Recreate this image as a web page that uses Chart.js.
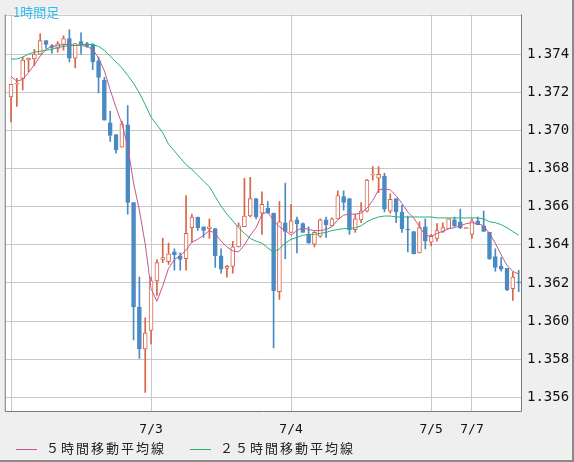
<!DOCTYPE html>
<html lang="ja">
<head>
<meta charset="UTF-8">
<title>1時間足</title>
<script src="https://cdn.jsdelivr.net/npm/chart.js"></script>
<style>
  html, body { margin: 0; padding: 0; background: #efefef; }
  #wrap { position: relative; width: 572px; height: 460px; border-right: 2px solid #8a8a8a; border-bottom: 2px solid #8a8a8a; }
  #title { position: absolute; left: 13px; top: 2px; color: #33bbee; font: 13px "Noto Sans CJK JP", sans-serif; }
  #legend { position: absolute; left: 16px; top: 438px; font: 13px "Noto Sans CJK JP", sans-serif; color: #222; letter-spacing: 2px; }
  #legend span.l { display: inline-block; width: 21px; height: 1px; vertical-align: middle; margin-right: 9px; }
</style>
</head>
<body>
<div id="wrap">
  <canvas id="c" width="574" height="462"></canvas>
  <div id="title">1時間足</div>
  <div id="legend"><span class="l" style="background:#c4588c"></span>５時間移動平均線<span class="l" style="background:#22b473;margin-left:24px"></span>２５時間移動平均線</div>
</div>
<script>
// OHLC per hourly candle
const opens  = [1.37176,1.37242,1.37273,1.37369,1.37374,1.37400,1.37471,1.37445,1.37430,1.37450,
                1.37481,1.37379,1.37466,1.37455,1.37450,1.37364,1.37262,1.37039,1.36978,1.36912,
                1.37029,1.36622,1.36074,1.35855,1.35952,1.36211,1.36323,1.36312,1.36363,1.36343,
                1.36328,1.36490,1.36546,1.36495,1.36485,1.36485,1.36343,1.36277,1.36287,1.36389,
                1.36495,1.36551,1.36643,1.36566,1.36592,1.36566,1.36155,1.36516,1.36465,1.36531,
                1.36511,1.36455,1.36404,1.36445,1.36531,1.36500,1.36536,1.36653,1.36643,1.36480,
                1.36531,1.36577,1.36765,1.36749,1.36760,1.36577,1.36643,1.36572,1.36483,1.36470,
                1.36358,1.36495,1.36414,1.36434,1.36470,1.36485,1.36531,1.36521,1.36485,1.36455,
                1.36526,1.36500,1.36465,1.36338,1.36287,1.36277,1.36170,1.36206];
const highs  = [1.37242,1.37273,1.37384,1.37379,1.37425,1.37506,1.37471,1.37450,1.37466,1.37496,
                1.37527,1.37455,1.37511,1.37461,1.37455,1.37384,1.37278,1.37100,1.36978,1.37049,
                1.37130,1.36622,1.36231,1.36018,1.36231,1.36323,1.36434,1.36409,1.36379,1.36358,
                1.36658,1.36561,1.36546,1.36495,1.36536,1.36485,1.36379,1.36292,1.36419,1.36516,
                1.36749,1.36754,1.36643,1.36678,1.36627,1.36566,1.36627,1.36724,1.36612,1.36546,
                1.36516,1.36495,1.36470,1.36536,1.36546,1.36541,1.36683,1.36683,1.36643,1.36561,
                1.36622,1.36744,1.36810,1.36810,1.36775,1.36668,1.36643,1.36607,1.36551,1.36470,
                1.36521,1.36536,1.36455,1.36511,1.36516,1.36536,1.36546,1.36587,1.36490,1.36536,
                1.36546,1.36577,1.36465,1.36379,1.36333,1.36277,1.36257,1.36267];
const lows   = [1.37044,1.37125,1.37212,1.37308,1.37339,1.37400,1.37430,1.37405,1.37410,1.37420,
                1.37359,1.37328,1.37400,1.37435,1.37318,1.37196,1.37054,1.36942,1.36881,1.36912,
                1.36561,1.35901,1.35804,1.35627,1.35881,1.36135,1.36307,1.36297,1.36267,1.36267,
                1.36267,1.36414,1.36475,1.36439,1.36434,1.36282,1.36252,1.36231,1.36252,1.36389,
                1.36495,1.36546,1.36536,1.36455,1.36566,1.35860,1.36114,1.36328,1.36465,1.36358,
                1.36465,1.36409,1.36389,1.36439,1.36439,1.36500,1.36536,1.36582,1.36455,1.36465,
                1.36516,1.36572,1.36739,1.36673,1.36572,1.36566,1.36516,1.36465,1.36363,1.36353,
                1.36358,1.36379,1.36394,1.36419,1.36465,1.36485,1.36495,1.36485,1.36485,1.36434,
                1.36506,1.36470,1.36323,1.36262,1.36262,1.36160,1.36109,1.36155];
const closes = [1.37242,1.37247,1.37369,1.37379,1.37400,1.37471,1.37450,1.37435,1.37455,1.37481,
                1.37379,1.37455,1.37450,1.37440,1.37359,1.37278,1.37054,1.36973,1.36897,1.37034,
                1.36622,1.36074,1.35855,1.35937,1.36211,1.36307,1.36333,1.36353,1.36348,1.36323,
                1.36460,1.36546,1.36490,1.36475,1.36495,1.36343,1.36272,1.36287,1.36389,1.36500,
                1.36551,1.36643,1.36546,1.36612,1.36566,1.36160,1.36521,1.36470,1.36526,1.36511,
                1.36465,1.36409,1.36465,1.36531,1.36506,1.36536,1.36658,1.36622,1.36480,1.36536,
                1.36577,1.36739,1.36768,1.36770,1.36587,1.36638,1.36572,1.36485,1.36478,1.36353,
                1.36490,1.36419,1.36445,1.36475,1.36490,1.36536,1.36500,1.36490,1.36490,1.36526,
                1.36506,1.36470,1.36328,1.36282,1.36272,1.36165,1.36231,1.36201];
// moving averages as drawn
const ma5  = [1.37283,1.37257,1.37268,1.37303,1.37344,1.37389,1.37425,1.37440,1.37445,1.37450,
              1.37450,1.37445,1.37445,1.37440,1.37425,1.37379,1.37313,1.37212,1.37120,1.37034,
              1.36917,1.36724,1.36582,1.36404,1.36170,1.36104,1.36185,1.36277,1.36323,1.36343,
              1.36373,1.36414,1.36429,1.36450,1.36475,1.36460,1.36419,1.36389,1.36368,1.36363,
              1.36399,1.36450,1.36490,1.36561,1.36572,1.36526,1.36495,1.36475,1.36450,1.36475,
              1.36490,1.36480,1.36475,1.36475,1.36480,1.36495,1.36531,1.36556,1.36561,1.36561,
              1.36566,1.36592,1.36633,1.36688,1.36694,1.36688,1.36658,1.36617,1.36572,1.36541,
              1.36495,1.36450,1.36445,1.36460,1.36470,1.36485,1.36490,1.36500,1.36511,1.36516,
              1.36511,1.36500,1.36460,1.36409,1.36348,1.36292,1.36262,1.36246];
const ma25 = [1.37374,1.37374,1.37384,1.37400,1.37410,1.37415,1.37420,1.37425,1.37435,1.37440,
              1.37445,1.37445,1.37450,1.37450,1.37450,1.37440,1.37420,1.37389,1.37359,1.37328,
              1.37288,1.37247,1.37196,1.37135,1.37069,1.37029,1.36988,1.36927,1.36892,1.36856,
              1.36820,1.36795,1.36765,1.36734,1.36704,1.36653,1.36602,1.36561,1.36526,1.36490,
              1.36460,1.36434,1.36419,1.36409,1.36384,1.36363,1.36379,1.36409,1.36429,1.36439,
              1.36450,1.36455,1.36455,1.36460,1.36465,1.36475,1.36480,1.36485,1.36485,1.36490,
              1.36500,1.36521,1.36536,1.36546,1.36551,1.36551,1.36546,1.36546,1.36546,1.36546,
              1.36546,1.36546,1.36546,1.36541,1.36541,1.36541,1.36541,1.36541,1.36541,1.36541,
              1.36541,1.36536,1.36521,1.36516,1.36506,1.36490,1.36470,1.36450];
const dateTicks = [0, 24, 48, 72, 79];
const dateLabels = ['', '7/3', '7/4', '7/5', '7/7'];
const priceTicks = [1.356, 1.358, 1.360, 1.362, 1.364, 1.366, 1.368, 1.370, 1.372, 1.374, 1.376];

const UP = '#d8644a', DOWN = '#4a8ac4';
const isUp = closes.map((c, i) => c >= opens[i]);
const wicks = lows.map((l, i) => ({ x: i, y: [l, highs[i]] }));
const bodies = opens.map((o, i) => {
  let a = o, b = closes[i];
  if (Math.abs(a - b) < 0.00004) b = a + (isUp[i] ? 0.00004 : -0.00004);
  return { x: i, y: [a, b] };
});

const plotBg = {
  id: 'plotBg',
  beforeDraw(chart) {
    const { ctx, chartArea: a } = chart;
    ctx.save();
    ctx.fillStyle = '#ffffff';
    ctx.fillRect(a.left, a.top, a.right - a.left, a.bottom - a.top);
    ctx.restore();
  },
  afterDraw(chart) {
    const { ctx, chartArea: a } = chart;
    ctx.save();
    ctx.strokeStyle = '#7a7a7a';
    ctx.lineWidth = 1;
    ctx.beginPath();
    ctx.moveTo(a.left - 0.5, a.top);
    ctx.lineTo(a.left - 0.5, a.bottom + 0.5);
    ctx.lineTo(a.right + 0.5, a.bottom + 0.5);
    ctx.lineTo(a.right + 0.5, a.top);
    ctx.stroke();
    ctx.restore();
  }
};

new Chart(document.getElementById('c'), {
  data: {
    datasets: [
      { type: 'line', data: ma25.map((v, i) => ({ x: i, y: v })), borderColor: '#22b473', borderWidth: 1, pointRadius: 0, tension: 0, order: 0 },
      { type: 'line', data: ma5.map((v, i) => ({ x: i, y: v })), borderColor: '#c4588c', borderWidth: 1, pointRadius: 0, tension: 0, order: 1 },
      { type: 'bar', data: bodies, grouped: false, barThickness: 4,
        backgroundColor: isUp.map(u => u ? '#ffffff' : DOWN),
        borderColor: isUp.map(u => u ? UP : DOWN), borderWidth: 1, borderSkipped: false, order: 2 },
      { type: 'bar', data: wicks, grouped: false, barThickness: 1,
        backgroundColor: isUp.map(u => u ? UP : DOWN), borderWidth: 0, order: 3 }
    ]
  },
  options: {
    responsive: false,
    animation: false,
    layout: { padding: { left: 2, top: 2, right: 0, bottom: 0 } },
    plugins: { legend: { display: false }, tooltip: { enabled: false } },
    scales: {
      x: {
        type: 'linear', min: -0.9, max: 87.4, offset: false,
        afterBuildTicks: s => { s.ticks = dateTicks.map(v => ({ value: v })); },
        afterFit: s => { s.height = 51; },
        grid: { color: '#c8c8c8', drawTicks: false, offset: false },
        border: { display: false },
        ticks: { padding: 11, maxRotation: 0, autoSkip: false, color: '#111',
                 font: { family: 'DejaVu Sans Mono', size: 13 },
                 callback: v => dateLabels[dateTicks.indexOf(v)] }
      },
      y: {
        position: 'right', min: 1.35529, max: 1.37608,
        afterBuildTicks: s => { s.ticks = priceTicks.map(v => ({ value: v })); },
        afterFit: s => { s.width = 53; },
        grid: { color: '#c8c8c8', drawTicks: false },
        border: { display: false },
        ticks: { padding: 6, color: '#111', font: { family: 'DejaVu Sans Mono', size: 14 },
                 callback: v => v === 1.376 ? '' : v.toFixed(3) }
      }
    }
  },
  plugins: [plotBg]
});
</script>
</body>
</html>
